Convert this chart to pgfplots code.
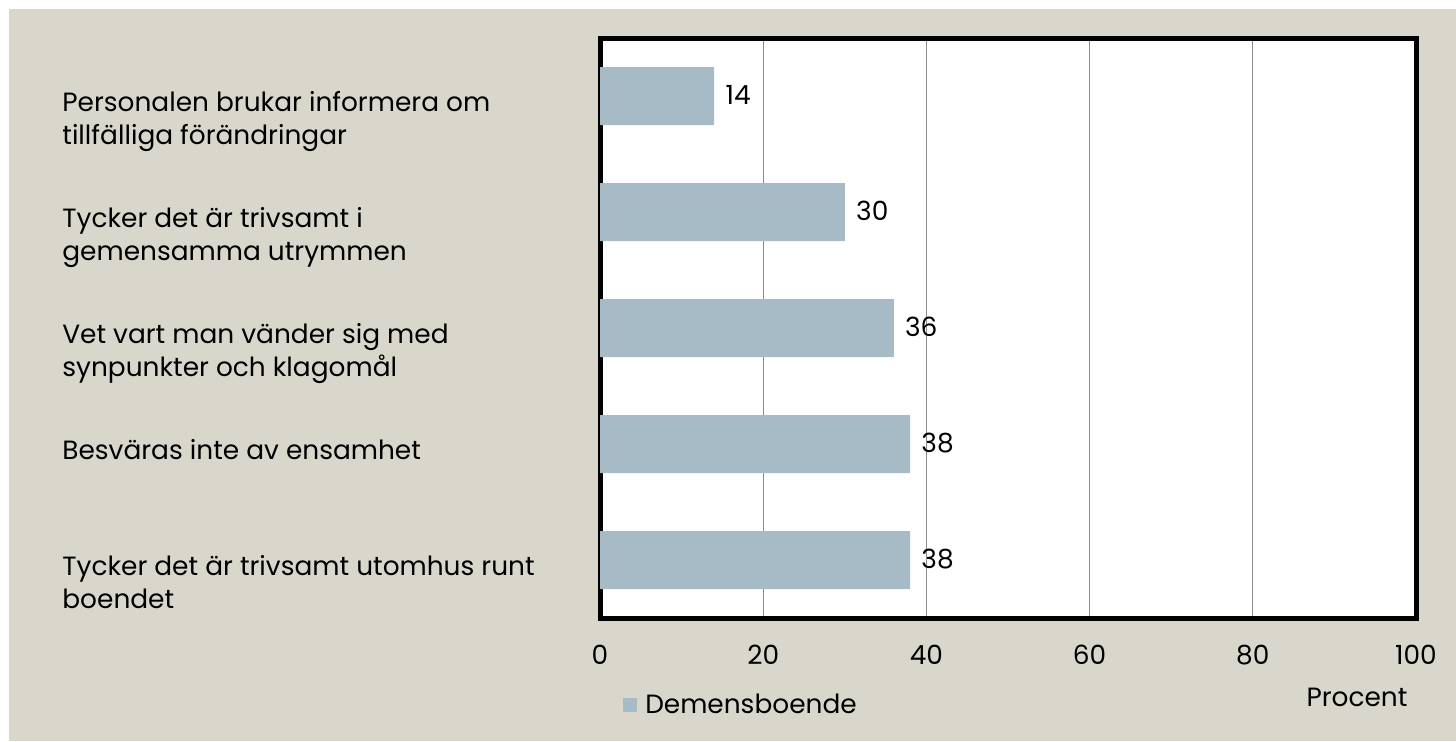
\documentclass[border=0pt]{standalone}
\usepackage{pgfplots}
\pgfplotsset{compat=1.18}
\usepackage{fontspec}
\setmainfont{Poppins}
\definecolor{bg}{RGB}{217,215,203}
\definecolor{barc}{RGB}{167,187,198}
\definecolor{gridc}{RGB}{140,140,140}
\newcommand{\ff}{\fontsize{13.2}{16.5}\selectfont}
\begin{document}
\begin{tikzpicture}[x=0.5pt,y=0.5pt]
\useasboundingbox (0,0) rectangle (1456,741);
\fill[white] (0,0) rectangle (1456,741);
\fill[bg] (9,0) rectangle (1456,732);
\begin{axis}[
  at={(300pt,61.5pt)}, anchor=south west,
  scale only axis, width=408pt, height=290pt,
  xmin=0, xmax=100, ymin=0.5, ymax=5.5, y dir=reverse,
  xbar, bar width=29pt, bar shift=0pt,
  xtick={0,20,...,100}, ytick={1,2,3,4,5},
  yticklabels={Personalen brukar informera om\\tillfälliga förändringar,
    Tycker det är trivsamt i\\gemensamma utrymmen,
    Vet vart man vänder sig med\\synpunkter och klagomål,
    Besväras inte av ensamhet,
    Tycker det är trivsamt utomhus runt\\boendet},
  yticklabel style={anchor=north west, align=left, inner sep=0pt, xshift=-269pt, yshift=2.5pt, font=\ff},
  xticklabel style={anchor=north, inner sep=0pt, yshift=-13.5pt, font=\ff},
  /pgf/number format/assume math mode=true,
  major tick length=0pt,
  axis line style={line width=2.5pt},
  axis background/.style={fill=white},
  xmajorgrids, grid style={gridc, line width=0.6pt},
  nodes near coords,
  every node near coord/.append style={font=\ff, anchor=west, inner sep=0pt, xshift=5.5pt, yshift=0.5pt, text=black},
  legend style={at={(0.028,-0.15)}, anchor=west, draw=none, fill=none, inner sep=0pt, font=\ff, /tikz/every even column/.append style={column sep=0pt}},
  legend cell align=left,
  legend image code/.code={\path[#1, draw=none] (0pt,-3.5pt) rectangle (7pt,3.5pt);},
]
\addplot[fill=barc, draw=none] coordinates {(14,1) (30,2) (36,3) (38,4) (38,5)};
\addlegendentry{\hspace{2pt}Demensboende}
\end{axis}
\node[font=\ff, inner sep=0pt] at (1357,44) {Procent};
\end{tikzpicture}
\end{document}
